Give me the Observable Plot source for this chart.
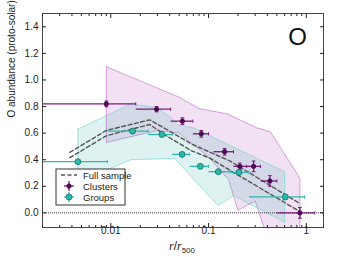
<!DOCTYPE html>
<html><head><meta charset="utf-8">
<script src="https://cdn.jsdelivr.net/npm/d3@7"></script>
<script src="https://cdn.jsdelivr.net/npm/@observablehq/plot@0.6"></script>
<style>
body{margin:0;background:#fff;}
svg{font-family:"Liberation Sans",Arial,sans-serif;}
</style></head>
<body><div id="chart"></div>
<script>
// Clusters
const clusterX = [0.009, 0.0294, 0.054, 0.0843, 0.146, 0.209, 0.289, 0.424, 0.86];
const clusterY = [0.82, 0.78, 0.69, 0.595, 0.46, 0.35, 0.35, 0.24, 0.0];
const clusterXlo = [0.0015, 0.018, 0.041, 0.069, 0.112, 0.18, 0.245, 0.34, 0.50];
const clusterXhi = [0.018, 0.041, 0.069, 0.10, 0.18, 0.245, 0.34, 0.50, 1.22];
const clusterYerr = [0.022, 0.02, 0.025, 0.025, 0.025, 0.025, 0.04, 0.04, 0.04];
// Groups
const groupX = [0.0046, 0.0167, 0.0333, 0.0536, 0.0824, 0.1256, 0.205, 0.61];
const groupY = [0.385, 0.615, 0.59, 0.44, 0.35, 0.31, 0.305, 0.12];
const groupXlo = [0.0015, 0.0092, 0.024, 0.0425, 0.064, 0.10, 0.166, 0.26];
const groupXhi = [0.0092, 0.024, 0.0425, 0.064, 0.10, 0.166, 0.26, 0.96];
const groupYerr = [0.01, 0.01, 0.01, 0.012, 0.012, 0.012, 0.015, 0.02];
// Cluster scatter band
const clusBandUpX = [0.009, 0.05, 0.08, 0.155, 0.31, 0.43, 0.86];
const clusBandUpY = [1.10, 0.87, 0.785, 0.745, 0.64, 0.61, 0.26];
const clusBandLoX = [0.86, 0.45, 0.30, 0.20, 0.16, 0.10, 0.05, 0.03, 0.009];
const clusBandLoY = [-0.3, -0.3, 0.09, 0.02, 0.25, 0.42, 0.60, 0.62, 0.53];
// Group scatter band
const grpBandUpX = [0.0046, 0.016, 0.03, 0.041, 0.048, 0.07, 0.6];
const grpBandUpY = [0.63, 0.82, 0.79, 0.72, 0.66, 0.64, 0.31];
const grpBandLoX = [0.6, 0.18, 0.125, 0.045, 0.016, 0.0096, 0.0046];
const grpBandLoY = [-0.07, 0.13, 0.055, 0.41, 0.40, 0.33, 0.20];
// Full sample envelope
const fullUpX = [0.0038, 0.009, 0.025, 0.039, 0.066, 0.104, 0.166, 0.86];
const fullUpY = [0.455, 0.62, 0.70, 0.62, 0.52, 0.456, 0.39, 0.07];
const fullLoX = [0.0038, 0.009, 0.025, 0.037, 0.066, 0.104, 0.166, 0.86];
const fullLoY = [0.415, 0.58, 0.665, 0.58, 0.47, 0.41, 0.32, 0.01];
// Axes
const xTicks = [0.01, 0.1, 1];
const xTickLabels = ["0.01", "0.1", "1"];
const xMinor = [0.002,0.003,0.004,0.005,0.006,0.007,0.008,0.009,0.02,0.03,0.04,0.05,0.06,0.07,0.08,0.09,0.2,0.3,0.4,0.5,0.6,0.7,0.8,0.9];
const yTicks = [0, 0.2, 0.4, 0.6, 0.8, 1.0, 1.2, 1.4];
const legendLabels = ["Full sample", "Clusters", "Groups"];

const purple = "#7a1a7e", purpleDark = "#4a0a50";
const teal = "#2cb8ad", tealDark = "#1c6e68";

const poly = (ux, uy, lx, ly) => {
  const pts = ux.map((x, i) => ({x, y: uy[i]})).concat(lx.map((x, i) => ({x, y: ly[i]})));
  pts.push(pts[0]);
  return pts;
};
const pts = (xs, ys) => xs.map((x, i) => ({x, y: ys[i]}));
const clusters = clusterX.map((x, i) => ({x, y: clusterY[i], xlo: clusterXlo[i], xhi: clusterXhi[i], e: clusterYerr[i]}));
const groups = groupX.map((x, i) => ({x, y: groupY[i], xlo: groupXlo[i], xhi: groupXhi[i], e: groupYerr[i]}));

const k = 1.045; // half-width of cap in log space
function errMarks(data, color, dark, dot) {
  return [
    Plot.link(data, {x1: "xlo", x2: "xhi", y1: "y", y2: "y", stroke: color, strokeWidth: 1.3, clip: true}),
    Plot.link(data, {x1: "x", x2: "x", y1: d => d.y - d.e, y2: d => d.y + d.e, stroke: color, strokeWidth: 1.3, clip: true}),
    Plot.link(data, {x1: d => d.x / k, x2: d => d.x * k, y1: d => d.y - d.e, y2: d => d.y - d.e, stroke: color, strokeWidth: 1, clip: true}),
    Plot.link(data, {x1: d => d.x / k, x2: d => d.x * k, y1: d => d.y + d.e, y2: d => d.y + d.e, stroke: color, strokeWidth: 1, clip: true}),
    Plot.link(data, {x1: "xhi", x2: "xhi", y1: d => d.y - 0.012, y2: d => d.y + 0.012, stroke: color, strokeWidth: 1, clip: true}),
    Plot.dot(data, {x: "x", y: "y", r: dot, fill: dot > 2.5 ? color : dark, stroke: dark, strokeWidth: 0.8})
  ];
}

const chart = Plot.plot({
  width: 341, height: 257,
  marginLeft: 42, marginRight: 18, marginTop: 13, marginBottom: 30,
  style: {fontFamily: "Liberation Sans, Arial, sans-serif", fontSize: "10px", color: "#222", background: "#fff"},
  x: {type: "log", domain: [0.002, 1.5]},
  y: {domain: [-0.11, 1.5]},
  marks: [
    Plot.line(poly(clusBandUpX, clusBandUpY, clusBandLoX, clusBandLoY), {x: "x", y: "y", fill: "#a838b0", fillOpacity: 0.15, stroke: "#c87ad0", strokeWidth: 0.8, strokeDasharray: "1,1", curve: "linear", clip: true}),
    Plot.line(poly(grpBandUpX, grpBandUpY, grpBandLoX, grpBandLoY), {x: "x", y: "y", fill: "#23afa2", fillOpacity: 0.15, stroke: "#7fd6cf", strokeWidth: 0.8, strokeDasharray: "1,1", curve: "linear", clip: true}),
    Plot.ruleY([0], {stroke: "#333", strokeWidth: 1, strokeDasharray: "1,1"}),
    Plot.line(pts(fullUpX, fullUpY), {x: "x", y: "y", stroke: "#555", strokeWidth: 1.4, strokeDasharray: "4,2.5"}),
    Plot.line(pts(fullLoX, fullLoY), {x: "x", y: "y", stroke: "#555", strokeWidth: 1.4, strokeDasharray: "4,2.5"}),
    ...errMarks(clusters, purple, purpleDark, 2.2),
    ...errMarks(groups, teal, tealDark, 3),
    Plot.frame({stroke: "#444", strokeWidth: 1}),
    Plot.axisX(xTicks, {tickSize: -4, tickFormat: d => xTickLabels[xTicks.indexOf(d)], tickPadding: 3, label: null, fontSize: 10}),
    Plot.axisX(xMinor, {tickSize: -2, tickFormat: () => "", label: null}),
    Plot.axisX(xTicks, {anchor: "top", tickSize: -4, tickFormat: () => "", label: null}),
    Plot.axisX(xMinor, {anchor: "top", tickSize: -2, tickFormat: () => "", label: null}),
    Plot.axisY(yTicks, {tickSize: -4, tickPadding: 8, tickFormat: d3.format(".1f"), label: null, fontSize: 10}),
    Plot.axisY(yTicks, {anchor: "right", tickSize: -4, tickFormat: () => "", label: null}),
    Plot.text(["O"], {frameAnchor: "top-right", dx: -26, dy: 14, fontSize: 24, fill: "#111", textAnchor: "middle", lineAnchor: "top"}),
    Plot.text(["O abundance (proto-solar)"], {frameAnchor: "left", rotate: -90, dx: -31, dy: -3, fontSize: 10, fill: "#222"})
  ]
});
document.getElementById("chart").appendChild(chart);

// x-axis label with italic r and subscript
const svg = d3.select(chart);
const xl = svg.append("text").attr("x", 182).attr("y", 250).attr("text-anchor", "middle")
  .attr("font-size", 12).attr("fill", "#222");
xl.append("tspan").attr("font-style", "italic").attr("font-family", "Liberation Serif, serif").text("r");
xl.append("tspan").text("/");
xl.append("tspan").attr("font-style", "italic").attr("font-family", "Liberation Serif, serif").text("r");
xl.append("tspan").attr("font-size", 8).attr("dy", 3).text("500");

// Legend
const lg = svg.append("g").attr("transform", "translate(56,169)").attr("text-anchor", "start");
lg.append("rect").attr("width", 69).attr("height", 36).attr("fill", "#fff").attr("stroke", "#333").attr("stroke-width", 1);
const rowY = [6, 17, 28];
lg.append("line").attr("x1", 5).attr("x2", 21).attr("y1", rowY[0]).attr("y2", rowY[0]).attr("stroke", "#555").attr("stroke-width", 1.4).attr("stroke-dasharray", "4,2.5");
[[purple, purpleDark, 2.2, rowY[1]], [teal, tealDark, 3, rowY[2]]].forEach(([c, dk, r, y]) => {
  lg.append("line").attr("x1", 8).attr("x2", 18).attr("y1", y).attr("y2", y).attr("stroke", c).attr("stroke-width", 1.3);
  lg.append("line").attr("x1", 13).attr("x2", 13).attr("y1", y - 5).attr("y2", y + 5).attr("stroke", c).attr("stroke-width", 1.3);
  lg.append("circle").attr("cx", 13).attr("cy", y).attr("r", r).attr("fill", r > 2.5 ? c : dk).attr("stroke", dk).attr("stroke-width", 0.8);
});
legendLabels.forEach((t, i) => {
  lg.append("text").attr("x", 27).attr("y", rowY[i] + 3.5).attr("font-size", 9.5).attr("text-anchor", "start").attr("fill", "#222").text(t);
});
</script></body></html>
